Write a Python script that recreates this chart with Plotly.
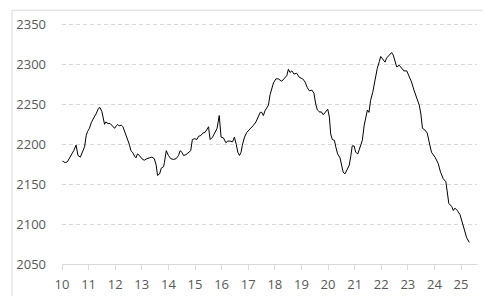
import plotly.graph_objects as go

x_vals = [10.02, 10.12, 10.20, 10.31, 10.44, 10.53, 10.60, 10.69, 10.77, 10.85,
          10.91, 10.96, 11.03, 11.10, 11.19, 11.28, 11.37, 11.43, 11.50, 11.56,
          11.60, 11.65, 11.73, 11.81, 11.90, 11.98, 12.04, 12.09, 12.15, 12.23,
          12.29, 12.35, 12.41, 12.48, 12.53, 12.59, 12.65, 12.73, 12.78, 12.84,
          12.91, 13.00, 13.09, 13.19, 13.29, 13.38, 13.47, 13.54, 13.59, 13.67,
          13.73, 13.82, 13.85, 13.92, 14.00, 14.09, 14.19, 14.29, 14.38, 14.44,
          14.51, 14.57, 14.66, 14.75, 14.84, 14.90, 14.98, 15.07, 15.13, 15.22,
          15.29, 15.38, 15.44, 15.51, 15.54, 15.57, 15.66, 15.76, 15.83, 15.91,
          15.98, 16.07, 16.16, 16.23, 16.32, 16.41, 16.48, 16.55, 16.61, 16.67,
          16.73, 16.78, 16.86, 16.95, 17.07, 17.20, 17.29, 17.36, 17.45, 17.51,
          17.57, 17.63, 17.70, 17.76, 17.82, 17.89, 17.95, 18.04, 18.13, 18.26,
          18.36, 18.45, 18.51, 18.57, 18.64, 18.72, 18.82, 18.92, 19.05, 19.14,
          19.22, 19.30, 19.39, 19.47, 19.54, 19.60, 19.70, 19.74, 19.82, 19.91,
          19.99, 20.05, 20.10, 20.16, 20.24, 20.29, 20.36, 20.45, 20.51, 20.57,
          20.64, 20.72, 20.80, 20.86, 20.91, 20.98, 21.04, 21.12, 21.20, 21.29,
          21.36, 21.48, 21.54, 21.60, 21.68, 21.76, 21.85, 21.93, 21.98, 22.05,
          22.14, 22.20, 22.30, 22.39, 22.45, 22.52, 22.58, 22.68, 22.77, 22.85,
          22.96, 23.05, 23.14, 23.23, 23.33, 23.43, 23.49, 23.55, 23.64, 23.73,
          23.80, 23.89, 24.02, 24.14, 24.23, 24.33, 24.43, 24.48, 24.54, 24.65,
          24.71, 24.77, 24.86, 24.96, 25.02, 25.11, 25.21, 25.31]

y_vals = [2179, 2177, 2178, 2184, 2192, 2199, 2186, 2184, 2190, 2197,
          2211, 2216, 2220, 2227, 2233, 2238, 2245, 2246, 2241, 2231,
          2225, 2228, 2226, 2226, 2223, 2220, 2223, 2225, 2223, 2224,
          2222, 2217, 2212, 2206, 2200, 2192, 2190, 2185, 2183, 2188,
          2186, 2182, 2180, 2182, 2183, 2184, 2182, 2174, 2161, 2163,
          2170, 2172, 2177, 2192, 2186, 2182, 2181, 2182, 2186, 2192,
          2190, 2186, 2187, 2189, 2192, 2206, 2207, 2206, 2210, 2211,
          2214, 2215, 2218, 2222, 2213, 2206, 2209, 2215, 2220, 2236,
          2209, 2208, 2202, 2204, 2204, 2203, 2209, 2200, 2190, 2186,
          2190, 2199, 2209, 2215, 2219, 2224, 2228, 2234, 2240, 2240,
          2236, 2242, 2245, 2249, 2262, 2270, 2277, 2282, 2282, 2279,
          2283, 2286, 2294, 2290, 2292, 2288, 2289, 2284, 2282, 2278,
          2271, 2267, 2268, 2264, 2250, 2243, 2240, 2241, 2237, 2240,
          2244, 2234, 2213, 2206, 2205, 2197, 2188, 2183, 2174, 2165,
          2163, 2168, 2174, 2186, 2198, 2198, 2190, 2188, 2195, 2205,
          2224, 2243, 2240, 2255, 2265, 2280, 2295, 2304, 2310, 2307,
          2303, 2308, 2312, 2315, 2312, 2303, 2297, 2299, 2295, 2292,
          2292, 2286, 2278, 2268, 2259, 2249, 2238, 2220, 2218, 2214,
          2203, 2190, 2184, 2176, 2165, 2157, 2153, 2140, 2126, 2122,
          2117, 2120, 2117, 2112, 2105, 2093, 2083, 2077]

x_ticks = list(range(10, 26))
y_ticks = [2050, 2100, 2150, 2200, 2250, 2300, 2350]

fig = go.Figure()
fig.add_trace(go.Scatter(x=x_vals, y=y_vals, mode="lines",
                         line=dict(color="#000000", width=1),
                         hoverinfo="skip", showlegend=False))

font = dict(family="Open Sans", size=13, color="#595959")
fig.update_layout(
    width=483, height=302,
    margin=dict(l=62, r=6, t=23, b=38),
    paper_bgcolor="white", plot_bgcolor="white",
    showlegend=False,
    xaxis=dict(range=[10, 25.6], tickvals=x_ticks, ticktext=[str(t) for t in x_ticks],
               showgrid=False, zeroline=False, showline=True, linecolor="#d9d9d9",
               linewidth=1, ticks="outside", ticklen=5, tickcolor="#d9d9d9",
               tickfont=font, ticklabelstandoff=3),
    yaxis=dict(range=[2050, 2352], tickvals=y_ticks, showgrid=True,
               gridcolor="#d9d9d9", griddash="4px,3px", gridwidth=1, zeroline=False,
               showline=False, ticks="", tickfont=font, ticklabelstandoff=15),
    shapes=[
        dict(type="line", xref="paper", yref="paper", x0=-0.1205, x1=1.1,
             y0=1.053, y1=1.053, line=dict(color="#d9d9d9", width=1)),
        dict(type="line", xref="paper", yref="paper", x0=-0.1205, x1=-0.1205,
             y0=1.053, y1=-0.133, line=dict(color="#d9d9d9", width=1)),
    ],
)

fig.write_html("out.html")
